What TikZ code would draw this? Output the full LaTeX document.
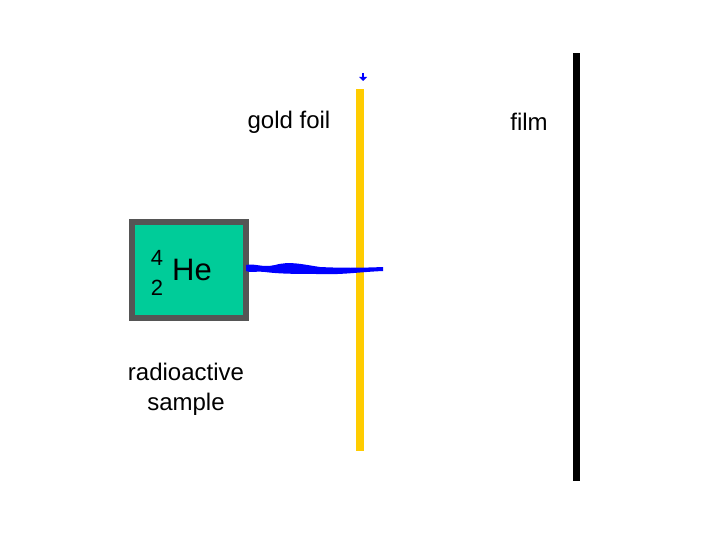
\documentclass[tikz,border=0pt]{standalone}
\usepackage{fontspec}
\setmainfont{Liberation Sans}
\begin{document}
\begin{tikzpicture}[x=1pt,y=-1pt,
 lbl/.style={font=\fontsize{24}{28}\selectfont,inner sep=0pt,align=center}]
\useasboundingbox (0,0) rectangle (720,540);
\definecolor{grn}{HTML}{00CC99}\definecolor{gld}{HTML}{FFCC00}\definecolor{gry}{HTML}{555555}
\node[draw=gry,line width=6pt,fill=grn,minimum width=114pt,minimum height=96pt,inner sep=0pt] (box) at (189,270) {};
\node[lbl,font=\fontsize{31}{34}\selectfont] (he) at (192,270) {He};
\node[lbl,font=\fontsize{22}{26}\selectfont] (m) at (157,258) {4};
\node[lbl,font=\fontsize{22}{26}\selectfont] (z) at (157,288) {2};
\node[lbl,text width=160pt,font=\fontsize{24}{30}\selectfont] (src) at (186,389) {radioactive\\sample};
\fill[gld] (356,89) rectangle (364,451);
\coordinate (foil) at (360,89);
\fill[black] (573,53) rectangle (580,481);
\node[lbl] (gf) at (289,122) {gold foil};
\node[lbl] (fl) at (529,122) {film};
\fill[blue] (246,265) .. controls (255,263) and (262,268) .. (275,265) .. controls (290,261) and (300,264) .. (320,267) .. controls (340,268) and (360,268) .. (383,267) -- (383,271) .. controls (360,272) and (340,275) .. (320,274) .. controls (300,274) and (280,274) .. (265,272) .. controls (255,271) and (250,273) .. (246,271) -- cycle;
\fill[blue] (359,77) -- (367,77) -- (363,81) -- cycle;
\draw[blue,line width=1.2pt] (363,73) -- (363,79);
\end{tikzpicture}
\end{document}
